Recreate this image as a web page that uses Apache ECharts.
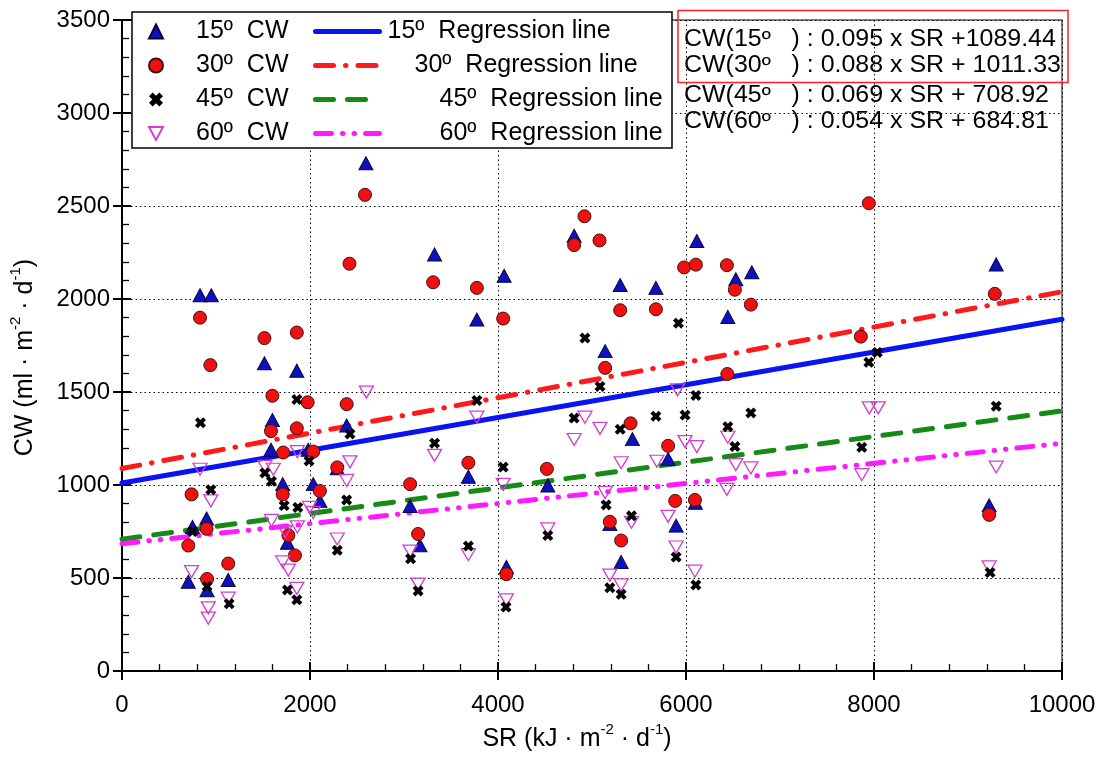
<!DOCTYPE html>
<html>
<head>
<meta charset="utf-8">
<title>CW vs SR</title>
<script src="https://cdn.jsdelivr.net/npm/echarts@6/dist/echarts.min.js"></script>
<style>
  html, body { margin: 0; padding: 0; background: #fff; }
  #chart { width: 1108px; height: 757px; }
</style>
</head>
<body>
<div id="chart"></div>
<script>
// Tilt angles of the collector
const angles = ['15º', '30º', '45º', '60º'];

// Measured CW against SR, one list of [SR, CW] pairs per angle
const cw15 = [[705,480],[750,775],[830,2020],[950,2020],[900,820],[905,435],[1130,490],[1515,1655],[1600,1350],[1585,1190],[1710,1005],[1760,690],[1860,1615],[1980,1190],[2035,1005],[2105,915],[2290,1090],[2390,1320],[2595,2730],[3065,888],[3170,676],[3325,2240],[3685,1045],[3775,1890],[4065,2125],[4090,560],[4530,998],[4810,2340],[5140,1720],[5190,790],[5300,2075],[5310,587],[5430,1247],[5680,2060],[5810,1140],[5895,782],[6100,905],[6115,2312],[6445,1904],[6530,2106],[6700,2144],[9225,891],[9300,2186]];
const cw30 = [[705,675],[740,950],[830,1900],[905,495],[940,1645],[900,765],[1130,578],[1515,1790],[1600,1480],[1585,1290],[1710,950],[1715,1175],[1770,730],[1840,622],[1860,1820],[1860,1305],[1975,1445],[2035,1180],[2105,968],[2290,1095],[2390,1435],[2420,2190],[2585,2560],[3065,1005],[3150,737],[3310,2090],[3685,1120],[3775,2060],[4055,1895],[4090,521],[4520,1087],[4810,2290],[4920,2445],[5080,2315],[5140,1630],[5190,803],[5300,1940],[5310,702],[5410,1332],[5680,1945],[5810,1211],[5885,915],[5980,2170],[6095,920],[6105,2185],[6435,2182],[6440,1597],[6520,2050],[6690,1970],[7860,1798],[7945,2515],[9225,840],[9285,2028]];
const cw45 = [[750,750],[835,1335],[905,455],[945,975],[1140,362],[1520,1065],[1590,1020],[1725,890],[1760,436],[1860,1460],[1860,383],[1870,880],[1990,1130],[2290,649],[2390,920],[2425,1275],[3070,604],[3150,431],[3325,1225],[3685,672],[3775,1455],[4055,1097],[4085,344],[4530,729],[4810,1360],[4925,1790],[5085,1530],[5150,893],[5190,448],[5300,1300],[5310,413],[5420,835],[5680,1370],[5895,613],[5920,1870],[5990,1376],[6105,1482],[6105,463],[6445,1314],[6520,1207],[6690,1388],[7870,1203],[7945,1660],[8035,1713],[9235,530],[9300,1424]];
const cw60 = [[740,535],[830,1085],[918,340],[918,285],[945,915],[1130,392],[1520,1100],[1610,1085],[1590,810],[1710,587],[1735,750],[1770,543],[1860,445],[1865,1180],[1865,775],[1995,880],[2035,853],[2290,710],[2390,1025],[2425,1125],[2600,1500],[3065,645],[3150,468],[3325,1160],[3685,626],[3775,1365],[4055,1004],[4090,383],[4530,764],[4810,1245],[4925,1365],[5085,1305],[5140,960],[5190,516],[5310,1120],[5310,463],[5420,800],[5690,1128],[5810,832],[5895,667],[5910,1512],[5990,1234],[6095,537],[6115,1207],[6435,977],[6445,1257],[6530,1110],[6690,1092],[7870,1056],[7950,1415],[8045,1415],[9225,560],[9300,1097]];

// Regression equations listed in the upper right
const eqSlopes = [0.095, 0.088, 0.069, 0.054];
const eqIntercepts = [1089.44, 1011.33, 708.92, 684.81];
// Equation row whose coefficients each regression line uses
const lineFitIndex = [1, 0, 2, 3];

// Axis ranges and ticks
const srRange = [0, 10000];
const srStep = 2000;
const cwRange = [0, 3500];
const cwStep = 500;

const FONT = '"Liberation Sans", Arial, sans-serif';

const chart = echarts.init(document.getElementById('chart'), null, { renderer: 'canvas' });

const regressionData = lineFitIndex.map(k => [
  [srRange[0], eqIntercepts[k] + eqSlopes[k] * srRange[0]],
  [srRange[1], eqIntercepts[k] + eqSlopes[k] * srRange[1]]
]);

const lineColors = ['#0a14f0', '#ff1a1a', '#168a16', '#ff1aff'];
const lineDash = [
  'solid',
  [18, 12, 0.5, 12],
  [18, 14],
  [16, 11, 0.5, 11, 0.5, 11]
];

const lineSeries = angles.map((a, i) => ({
  name: a + ' Regression line',
  type: 'line',
  data: regressionData[i],
  symbol: 'none',
  silent: true,
  z: 2,
  lineStyle: { color: lineColors[i], width: 5, type: lineDash[i], cap: 'round' },
  itemStyle: { color: lineColors[i] }
}));

const crossPath = 'path://M0,2.6L2.6,0L5,2.4L7.4,0L10,2.6L7.6,5L10,7.4L7.4,10L5,7.6L2.6,10L0,7.4L2.4,5Z';
const downTriPath = 'path://M0,0L12,0L6,11Z';

const scatterDefs = [
  { data: cw15, symbol: 'triangle', size: [14, 13], style: { color: '#1010c0', borderColor: '#08083a', borderWidth: 1 } },
  { data: cw30, symbol: 'circle', size: 13, style: { color: '#f01010', borderColor: '#401010', borderWidth: 1 } },
  { data: cw45, symbol: crossPath, size: [11, 11], style: { color: '#000' } },
  { data: cw60, symbol: downTriPath, size: [14, 12], style: { color: 'rgba(255,255,255,0)', borderColor: '#d040d0', borderWidth: 1.3 } }
];

const scatterSeries = scatterDefs.map((d, i) => ({
  name: angles[i] + ' CW',
  type: 'scatter',
  data: d.data,
  symbol: d.symbol,
  symbolSize: d.size,
  itemStyle: Object.assign({ opacity: 1 }, d.style),
  z: 3 + (i === 2 ? 2 : i === 3 ? 1 : 0)
}));

const supRich = {
  n: { fontFamily: FONT, fontSize: 25, color: '#000', lineHeight: 30, verticalAlign: 'bottom' },
  s: { fontFamily: FONT, fontSize: 15, color: '#000', lineHeight: 30, verticalAlign: 'top' }
};

function baseAxis(range, step) {
  return { type: 'value', min: range[0], max: range[1], interval: step };
}

const legendText = (pad) => ({ fontFamily: FONT, fontSize: 25, color: '#000', padding: [0, 0, 0, pad] });

const option = {
  animation: false,
  backgroundColor: '#fff',
  grid: {
    left: 122, right: 46, top: 20, bottom: 80,
    show: true, borderColor: '#555', borderWidth: 1.5, backgroundColor: 'transparent'
  },
  xAxis: [
    Object.assign(baseAxis(srRange, srStep), {
      position: 'bottom',
      name: '{n|SR (kJ · m}{s|-2}{n| · d}{s|-1}{n|)}',
      nameLocation: 'middle',
      nameGap: 48,
      nameTextStyle: { rich: supRich, padding: [0, 30, 0, 0] },
      axisLine: { show: true, onZero: false, lineStyle: { color: '#000', width: 2 } },
      axisTick: { show: true, inside: false, length: 9, lineStyle: { color: '#000', width: 2 } },
      axisLabel: { fontFamily: FONT, fontSize: 24, color: '#000', margin: 22, formatter: v => String(v) },
      splitLine: { show: true, lineStyle: { color: '#000', width: 1, type: [1.5, 3] } }
    }),
    Object.assign(baseAxis(srRange, srStep), {
      position: 'bottom',
      axisLine: { show: false, onZero: false },
      axisTick: { show: true, inside: true, length: 9, lineStyle: { color: '#000', width: 2 } },
      minorTick: { show: true, splitNumber: 5, length: 7, lineStyle: { color: '#000', width: 1.3 } },
      axisLabel: { show: false },
      splitLine: { show: false }
    })
  ],
  yAxis: [
    Object.assign(baseAxis(cwRange, cwStep), {
      position: 'left',
      name: '{n|CW (ml · m}{s|-2}{n| · d}{s|-1}{n|)}',
      nameLocation: 'middle',
      nameRotate: 90,
      nameGap: 84,
      nameTextStyle: { rich: supRich, padding: [0, 24, 0, 0] },
      axisLine: { show: true, onZero: false, lineStyle: { color: '#000', width: 2 } },
      axisTick: { show: true, inside: false, length: 9, lineStyle: { color: '#000', width: 2 } },
      axisLabel: { fontFamily: FONT, fontSize: 24, color: '#000', margin: 12, formatter: v => String(v) },
      splitLine: { show: true, lineStyle: { color: '#000', width: 1, type: [1.5, 3] } }
    }),
    Object.assign(baseAxis(cwRange, cwStep), {
      position: 'left',
      axisLine: { show: false, onZero: false },
      axisTick: { show: true, inside: true, length: 9, lineStyle: { color: '#000', width: 2 } },
      minorTick: { show: true, splitNumber: 5, length: 7, lineStyle: { color: '#000', width: 1.3 } },
      axisLabel: { show: false },
      splitLine: { show: false }
    })
  ],
  legend: [
    {
      data: scatterSeries.map(s => s.name),
      orient: 'vertical',
      left: 148, top: 19,
      padding: 0,
      itemGap: 9,
      itemWidth: 14, itemHeight: 14,
      z: 10,
      formatter: name => '{t|' + name.replace(' ', '  ') + '}',
      textStyle: { rich: { t: legendText(28) } }
    },
    {
      data: lineSeries.map(s => s.name),
      orient: 'vertical',
      left: 313, top: 19,
      padding: 0,
      itemGap: 9,
      itemWidth: 64, itemHeight: 14,
      z: 10,
      lineStyle: { width: 5 },
      // line sample only, without a point marker
      itemStyle: { opacity: 0 },
      formatter: name => {
        const k = angles.findIndex(a => name.indexOf(a) === 0);
        return '{r' + k + '|' + name.replace(' ', '  ') + '}';
      },
      textStyle: {
        rich: { r0: legendText(3), r1: legendText(30), r2: legendText(55), r3: legendText(55) }
      }
    }
  ],
  graphic: [
    {
      type: 'rect', z: 8, silent: true,
      shape: { x: 132, y: 12, width: 540, height: 136 },
      style: { fill: '#fff', stroke: '#000', lineWidth: 1.5 }
    },
    {
      type: 'rect', z: 8, silent: true,
      shape: { x: 678, y: 10.5, width: 390, height: 72 },
      style: { fill: 'none', stroke: '#ff2020', lineWidth: 1.5 }
    }
  ].concat(angles.map((a, i) => ({
    type: 'text', z: 9, silent: true,
    x: 684, y: [40, 66, 96, 122][i],
    scaleX: 1.085,
    style: {
      text: 'CW(' + a + '   ) : ' + eqSlopes[i].toFixed(3) + ' x SR ' + (i === 0 ? '+' : '+ ') + eqIntercepts[i].toFixed(2),
      font: '23px ' + FONT,
      fill: '#000',
      verticalAlign: 'middle'
    }
  }))),
  series: lineSeries.concat(scatterSeries)
};

chart.setOption(option);
</script>
</body>
</html>
